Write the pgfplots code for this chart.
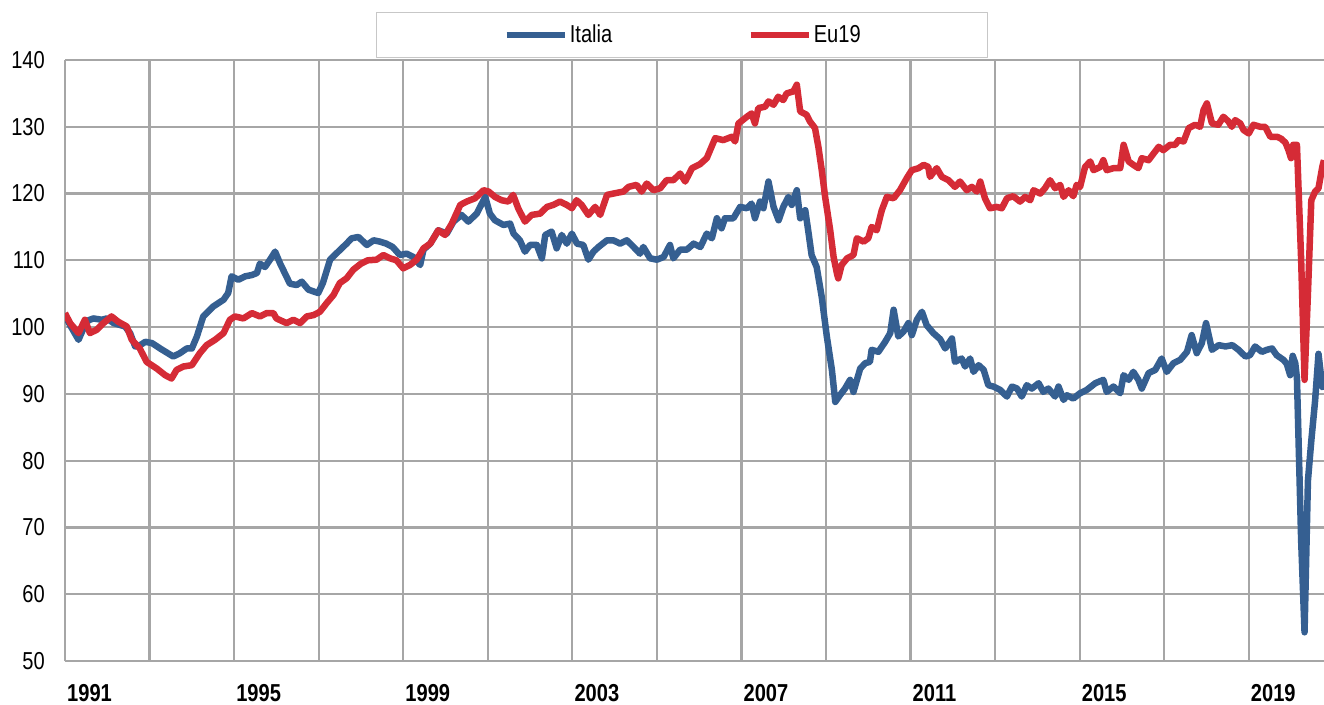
\documentclass[border=0pt]{standalone}
\usepackage{pgfplots}
\pgfplotsset{compat=1.18}
\usepackage{fontspec}
\setmainfont{Liberation Sans}[FakeStretch=0.82]
\definecolor{itblue}{HTML}{355F91}
\definecolor{eured}{HTML}{D52B36}
\definecolor{gridgray}{HTML}{A6A6A6}
\begin{document}
\begin{tikzpicture}
\useasboundingbox (-65pt,-43pt) rectangle (1259pt,661pt);
\begin{axis}[
  at={(0pt,0pt)}, anchor=south west,
  scale only axis, width=1259pt, height=601pt,
  xmin=1991, xmax=2020.78, ymin=50, ymax=140,
  xtick={1991,1993,...,2019},
  xticklabels={1991,,1995,,1999,,2003,,2007,,2011,,2015,,2019},
  ytick={50,60,...,140},
  major tick length=0pt,
  axis lines=left,
  axis line style={draw=gridgray, line width=2.2pt, -},
  grid=major,
  major grid style={draw=gridgray, line width=2.2pt},
  /pgf/number format/assume math mode=true,
  tick label style={font=\fontsize{24.5}{29}\selectfont, text=black},
  xticklabel style={font=\fontsize{24.5}{29}\selectfont\bfseries, anchor=north west, inner sep=0pt, yshift=-23pt, xshift=2pt},
  yticklabel style={anchor=east, inner sep=0pt, xshift=-20pt},
  legend columns=2,
  legend style={at={(0.4901,1)}, anchor=south, yshift=2pt,
    draw=black!22, line width=1.2pt, inner xsep=127pt, inner ysep=13pt,
    font=\fontsize{24.5}{29}\selectfont,
    nodes={inner sep=0pt, anchor=west},
    column sep=2pt,
    /tikz/every even column/.append style={column sep=135pt}},
  legend image code/.code={\draw[#1, line width=6.5pt] (0pt,0pt) -- (58pt,0pt);},
  line join=round,
]
\addplot[itblue, line width=6.5pt] coordinates {
(1991.00,101.8) (1991.12,100.3) (1991.32,98.1) (1991.45,100.0) (1991.55,101.0) (1991.67,101.3) (1991.87,101.1) (1991.99,101.3) (1992.15,100.6) (1992.42,100.1) (1992.54,99.1) (1992.66,97.1) (1992.78,97.3) (1992.90,97.8) (1993.06,97.6) (1993.25,96.8) (1993.56,95.6) (1993.72,96.1) (1993.88,96.8) (1994.00,96.8) (1994.12,98.6) (1994.27,101.6) (1994.51,103.1) (1994.75,104.1) (1994.86,105.1) (1994.94,107.6) (1995.10,107.1) (1995.26,107.6) (1995.42,107.8) (1995.54,108.1) (1995.61,109.5) (1995.73,109.0) (1995.85,110.1) (1995.97,111.3) (1996.09,109.5) (1996.32,106.5) (1996.48,106.3) (1996.60,106.8) (1996.76,105.6) (1996.99,105.1) (1997.10,106.6) (1997.27,110.1) (1997.43,111.1) (1997.66,112.5) (1997.78,113.3) (1997.94,113.5) (1998.14,112.3) (1998.30,113.0) (1998.45,112.8) (1998.60,112.5) (1998.75,112.0) (1998.92,110.8) (1999.08,111.0) (1999.24,110.5) (1999.40,109.3) (1999.48,111.6) (1999.64,112.5) (1999.83,114.5) (2000.03,114.0) (2000.19,115.8) (2000.38,116.8) (2000.54,115.8) (2000.74,117.0) (2000.94,119.5) (2001.05,117.0) (2001.17,116.0) (2001.37,115.3) (2001.53,115.5) (2001.61,114.0) (2001.76,113.0) (2001.88,111.3) (2002.00,112.3) (2002.16,112.3) (2002.28,110.3) (2002.36,113.8) (2002.51,114.3) (2002.63,111.8) (2002.75,113.8) (2002.87,112.5) (2002.99,114.0) (2003.11,112.5) (2003.26,112.3) (2003.38,110.1) (2003.50,111.3) (2003.62,112.0) (2003.82,113.0) (2003.97,113.0) (2004.13,112.5) (2004.29,113.0) (2004.45,112.0) (2004.60,111.0) (2004.68,112.0) (2004.84,110.3) (2005.00,110.1) (2005.16,110.5) (2005.31,112.3) (2005.39,110.3) (2005.55,111.6) (2005.71,111.6) (2005.87,112.5) (2006.03,112.0) (2006.18,114.0) (2006.30,113.3) (2006.42,116.3) (2006.53,114.8) (2006.61,116.3) (2006.81,116.3) (2006.97,118.0) (2007.13,117.8) (2007.24,118.5) (2007.32,116.3) (2007.44,118.8) (2007.52,117.8) (2007.64,121.8) (2007.76,118.0) (2007.88,116.0) (2007.99,118.0) (2008.11,119.5) (2008.19,118.3) (2008.31,120.5) (2008.39,116.3) (2008.51,117.5) (2008.59,114.0) (2008.66,110.8) (2008.78,109.0) (2008.90,104.5) (2009.02,98.6) (2009.14,93.6) (2009.22,88.8) (2009.33,89.8) (2009.45,90.8) (2009.57,92.1) (2009.65,90.3) (2009.81,93.8) (2009.93,94.6) (2010.04,94.8) (2010.08,96.6) (2010.24,96.3) (2010.40,97.8) (2010.52,99.1) (2010.60,102.6) (2010.71,98.6) (2010.83,99.3) (2010.95,100.6) (2011.03,98.8) (2011.15,101.1) (2011.27,102.3) (2011.38,100.3) (2011.54,99.1) (2011.70,98.2) (2011.82,96.8) (2011.98,98.3) (2012.05,94.8) (2012.21,95.3) (2012.29,94.1) (2012.41,95.3) (2012.49,93.3) (2012.61,94.3) (2012.73,93.6) (2012.84,91.3) (2012.96,91.1) (2013.12,90.6) (2013.28,89.6) (2013.40,91.1) (2013.52,90.8) (2013.63,89.6) (2013.75,91.3) (2013.87,90.8) (2014.03,91.6) (2014.14,90.3) (2014.26,90.8) (2014.42,89.6) (2014.50,91.1) (2014.62,89.1) (2014.70,89.8) (2014.85,89.3) (2015.01,90.1) (2015.17,90.6) (2015.37,91.6) (2015.56,92.1) (2015.64,90.3) (2015.80,91.1) (2015.96,90.1) (2016.04,92.8) (2016.16,92.1) (2016.27,93.3) (2016.39,92.1) (2016.47,90.8) (2016.63,93.1) (2016.79,93.6) (2016.94,95.3) (2017.06,93.3) (2017.22,94.6) (2017.38,95.1) (2017.54,96.3) (2017.65,98.8) (2017.77,96.1) (2017.89,97.6) (2017.99,100.6) (2018.13,96.6) (2018.29,97.3) (2018.45,97.1) (2018.61,97.3) (2018.76,96.6) (2018.92,95.6) (2019.03,95.8) (2019.15,97.1) (2019.31,96.3) (2019.43,96.6) (2019.55,96.8) (2019.66,95.8) (2019.82,95.1) (2019.90,94.5) (2019.98,92.8) (2020.04,95.7) (2020.10,94.6) (2020.14,92.4) (2020.24,68.0) (2020.32,54.3) (2020.40,77.0) (2020.48,83.0) (2020.57,89.0) (2020.65,96.0) (2020.74,91.0) (2020.78,91.2)
};
\addlegendentry{Italia}
\addplot[eured, line width=6.5pt] coordinates {
(1991.00,102.1) (1991.12,100.6) (1991.32,99.1) (1991.47,101.1) (1991.59,99.1) (1991.75,99.6) (1991.91,100.6) (1992.10,101.6) (1992.26,100.8) (1992.46,100.1) (1992.58,98.1) (1992.77,96.8) (1992.93,94.8) (1993.17,93.8) (1993.37,92.8) (1993.52,92.3) (1993.64,93.6) (1993.80,94.1) (1994.00,94.3) (1994.19,96.1) (1994.35,97.3) (1994.55,98.1) (1994.75,99.1) (1994.90,101.1) (1995.02,101.6) (1995.22,101.3) (1995.42,102.1) (1995.61,101.6) (1995.77,102.1) (1995.93,102.1) (1996.00,101.3) (1996.24,100.6) (1996.40,101.1) (1996.56,100.6) (1996.72,101.6) (1996.88,101.8) (1997.03,102.3) (1997.19,103.6) (1997.35,104.8) (1997.50,106.6) (1997.66,107.3) (1997.82,108.6) (1998.00,109.5) (1998.16,110.0) (1998.37,110.1) (1998.53,110.8) (1998.69,110.3) (1998.84,110.0) (1999.00,108.8) (1999.16,109.3) (1999.32,110.1) (1999.48,111.8) (1999.64,112.5) (1999.83,114.5) (1999.99,113.8) (2000.15,115.5) (2000.35,118.3) (2000.50,118.8) (2000.70,119.3) (2000.90,120.5) (2001.02,120.3) (2001.17,119.5) (2001.33,119.0) (2001.49,118.8) (2001.60,119.8) (2001.72,117.8) (2001.88,115.8) (2002.04,116.8) (2002.24,117.0) (2002.40,118.0) (2002.55,118.3) (2002.71,118.8) (2002.87,118.3) (2002.99,117.8) (2003.10,119.0) (2003.22,118.3) (2003.38,116.8) (2003.54,118.0) (2003.66,116.8) (2003.82,119.8) (2004.05,120.1) (2004.21,120.3) (2004.33,121.0) (2004.52,121.3) (2004.64,120.3) (2004.76,121.5) (2004.92,120.5) (2005.08,120.8) (2005.23,122.0) (2005.39,122.0) (2005.55,123.0) (2005.67,121.8) (2005.83,123.8) (2006.02,124.4) (2006.18,125.3) (2006.38,128.3) (2006.57,128.0) (2006.77,128.5) (2006.85,127.8) (2006.93,130.5) (2007.13,131.5) (2007.24,132.0) (2007.32,130.5) (2007.40,132.8) (2007.56,133.0) (2007.64,133.8) (2007.76,133.3) (2007.87,134.5) (2007.99,134.0) (2008.07,135.0) (2008.23,135.3) (2008.31,136.3) (2008.39,132.3) (2008.54,131.8) (2008.62,130.8) (2008.74,129.8) (2008.82,127.0) (2008.90,123.5) (2008.98,119.5) (2009.10,114.5) (2009.18,110.5) (2009.26,108.0) (2009.29,107.3) (2009.37,109.3) (2009.50,110.3) (2009.65,110.8) (2009.73,113.3) (2009.89,112.8) (2010.00,113.3) (2010.08,115.0) (2010.20,114.5) (2010.32,117.5) (2010.44,119.5) (2010.60,119.3) (2010.75,120.5) (2010.91,122.3) (2011.03,123.5) (2011.19,123.8) (2011.31,124.3) (2011.42,124.0) (2011.46,122.5) (2011.62,123.8) (2011.74,122.5) (2011.90,122.0) (2012.05,121.0) (2012.17,121.8) (2012.33,120.5) (2012.45,121.0) (2012.57,120.3) (2012.65,121.8) (2012.76,119.3) (2012.88,117.8) (2013.04,118.0) (2013.16,117.8) (2013.28,119.3) (2013.43,119.6) (2013.59,118.8) (2013.71,119.5) (2013.83,119.0) (2013.91,120.5) (2014.07,120.0) (2014.18,120.8) (2014.30,122.0) (2014.42,120.8) (2014.54,121.3) (2014.62,119.5) (2014.74,120.5) (2014.85,119.6) (2014.93,121.3) (2015.01,121.0) (2015.13,124.0) (2015.25,124.8) (2015.33,123.5) (2015.49,124.0) (2015.56,125.0) (2015.64,123.5) (2015.80,123.8) (2015.96,123.8) (2016.04,127.3) (2016.16,124.8) (2016.27,124.3) (2016.39,123.8) (2016.47,125.3) (2016.63,125.0) (2016.75,126.0) (2016.87,127.0) (2016.98,126.5) (2017.14,127.3) (2017.26,127.3) (2017.34,128.0) (2017.46,127.8) (2017.58,129.8) (2017.73,130.3) (2017.85,130.0) (2017.93,132.5) (2018.01,133.5) (2018.13,130.5) (2018.28,130.3) (2018.40,131.5) (2018.52,130.8) (2018.60,130.0) (2018.68,131.0) (2018.80,130.5) (2018.88,129.5) (2019.00,129.0) (2019.11,130.3) (2019.27,130.0) (2019.39,130.0) (2019.51,128.5) (2019.67,128.5) (2019.77,128.2) (2019.87,127.6) (2019.94,126.5) (2020.00,125.3) (2020.05,127.3) (2020.14,127.3) (2020.24,110.0) (2020.32,92.1) (2020.40,105.0) (2020.48,119.0) (2020.57,120.3) (2020.65,120.8) (2020.74,124.0) (2020.78,125.0)
};
\addlegendentry{Eu19}
\end{axis}
\end{tikzpicture}
\end{document}
